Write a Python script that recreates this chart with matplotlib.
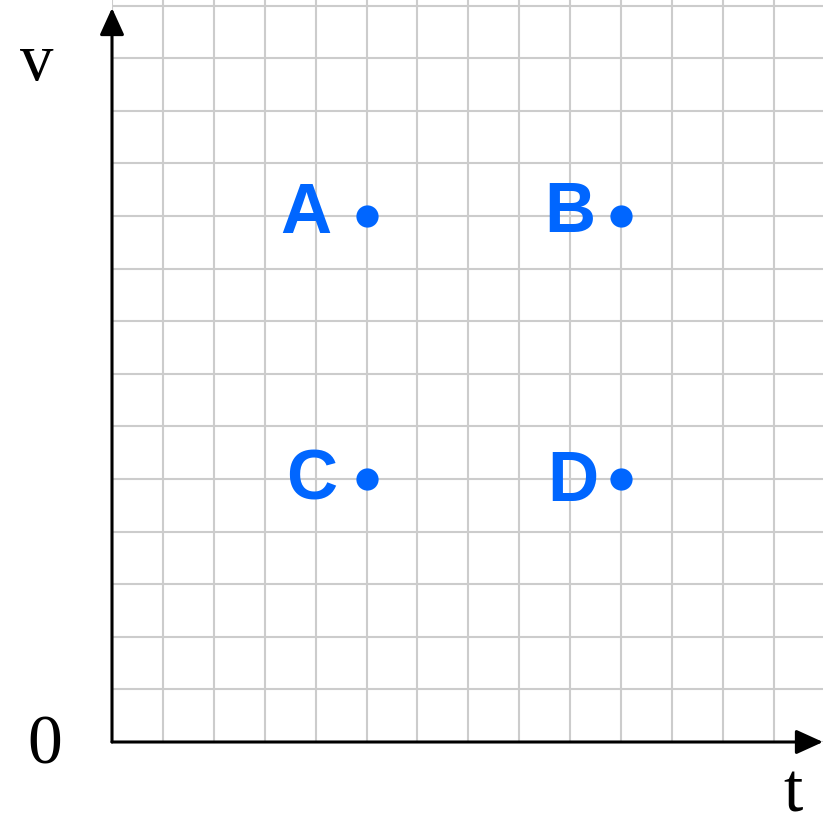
import matplotlib
matplotlib.use("Agg")
import matplotlib.pyplot as plt
from matplotlib.ticker import MultipleLocator

# data
labels = ["A", "B", "C", "D"]
t_vals = [5, 10, 5, 10]
v_vals = [10, 10, 5, 5]
x_label = "t"
y_label = "v"
origin_label = "0"

# layout: label offsets from their point, in pixels (dx, dy)
label_offsets_px = [(-61, -17), (-51, -16), (-55, -20), (-48, -22)]

W, H = 823, 826
DPI = 100
PT = 72 / DPI
fig = plt.figure(figsize=(W / DPI, H / DPI), dpi=DPI)

x0_px, y0_px = 112, 742
ux, uy = 50.9, 52.6
xmax = (W - x0_px) / ux
ymax = y0_px / uy
ax = fig.add_axes([x0_px / W, (H - y0_px) / H, (W - x0_px) / W, y0_px / H])
ax.set_xlim(0, xmax)
ax.set_ylim(0, ymax)

ax.xaxis.set_major_locator(MultipleLocator(1))
ax.yaxis.set_major_locator(MultipleLocator(1))
ax.grid(True, color="#cccccc", linewidth=1.5)
ax.tick_params(length=0, labelbottom=False, labelleft=False)
for s in ax.spines.values():
    s.set_visible(False)
ax.set_axisbelow(True)

blue = "#0066FF"
# axes arrows
astyle = "-|>,head_length=1.1,head_width=0.5"
for tip in [(xmax, 0), (0, (y0_px - 8) / uy)]:
    ax.annotate("", xy=tip, xytext=(0, 0),
                arrowprops=dict(arrowstyle=astyle, color="black", lw=2.2,
                                shrinkA=0, shrinkB=0, mutation_scale=15),
                annotation_clip=False)

ax.scatter(t_vals, v_vals, s=16 ** 2, color=blue, zorder=5, clip_on=False, linewidths=0)
for lab, tx, vy, (dx, dy) in zip(labels, t_vals, v_vals, label_offsets_px):
    ax.annotate(lab, xy=(tx, vy), xytext=(dx * PT, dy * PT), textcoords="offset points",
                ha="center", va="baseline", fontsize=51, fontweight="bold",
                family="Liberation Sans", color=blue, zorder=6)

serif = "Liberation Serif"
ax.text((37 - x0_px) / ux, (y0_px - 80) / uy, y_label, fontsize=48, family=serif,
        ha="center", va="baseline", clip_on=False)
ax.text((45 - x0_px) / ux, (y0_px - 763) / uy, origin_label, fontsize=50, family=serif,
        ha="center", va="baseline", clip_on=False)
ax.text((793 - x0_px) / ux, (y0_px - 812) / uy, x_label, fontsize=50, family=serif,
        ha="center", va="baseline", clip_on=False)

fig.savefig("out.png", dpi=DPI)
